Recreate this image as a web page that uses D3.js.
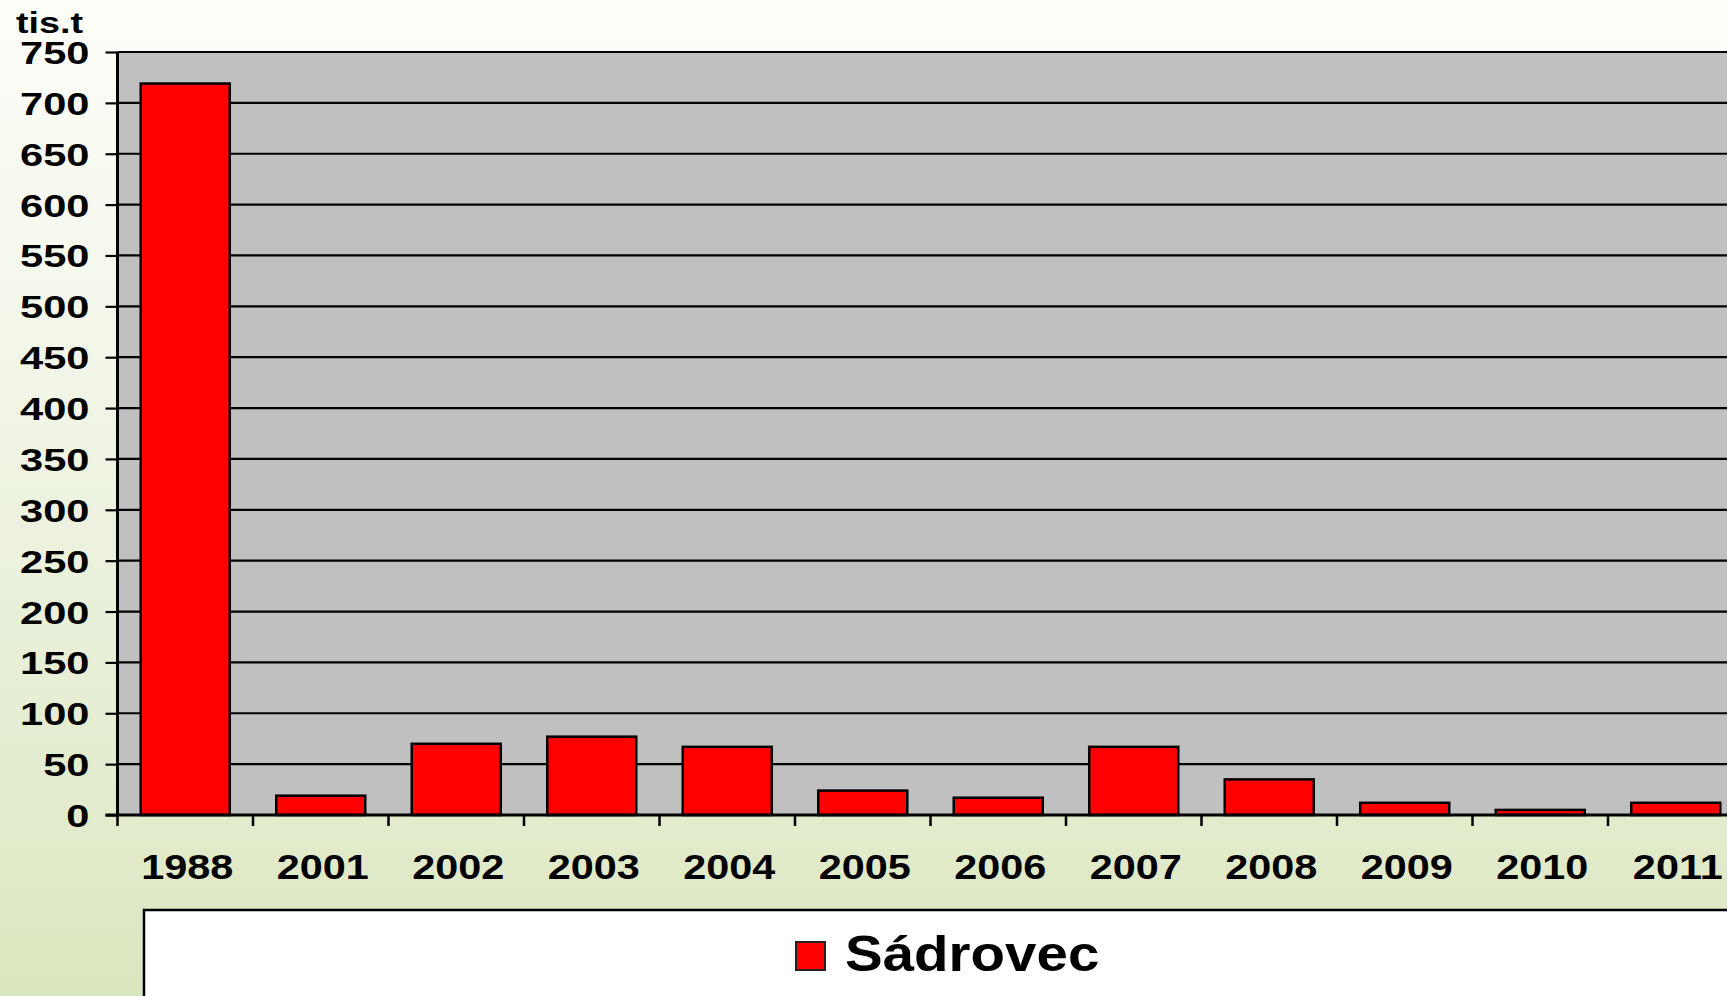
<!DOCTYPE html>
<html>
<head>
<meta charset="utf-8">
<script src="https://cdn.jsdelivr.net/npm/d3@7"></script>
<style>
  html, body { margin: 0; padding: 0; overflow: hidden; }
  svg { display: block; }
  text { font-family: "Liberation Sans", Arial, sans-serif; font-weight: bold; fill: #000; }
</style>
</head>
<body>
<svg id="chart" width="1727" height="996"></svg>
<script>
const categories = ["1988", "2001", "2002", "2003", "2004", "2005", "2006", "2007", "2008", "2009", "2010", "2011"];
const values = [719, 19, 70, 77, 67, 24, 17, 67, 35, 12, 5, 12];
const yTicks = [0, 50, 100, 150, 200, 250, 300, 350, 400, 450, 500, 550, 600, 650, 700, 750];
const seriesName = "Sádrovec";
const unitLabel = "tis.t";

const W = 1727, H = 996;
const plot = { left: 117.5, top: 52, bottom: 815 };
const step = 135.5;
const plotRight = plot.left + step * categories.length;

const svg = d3.select("#chart");

// background gradient
const defs = svg.append("defs");
const bg = defs.append("linearGradient").attr("id", "bg")
  .attr("x1", 0).attr("y1", 0).attr("x2", 0).attr("y2", 1);
bg.append("stop").attr("offset", "0%").attr("stop-color", "#FDFEF9");
bg.append("stop").attr("offset", "45%").attr("stop-color", "#EFF4E4");
bg.append("stop").attr("offset", "88%").attr("stop-color", "#E0EAC8");
bg.append("stop").attr("offset", "100%").attr("stop-color", "#D8E6BE");
svg.append("rect").attr("width", W).attr("height", H).attr("fill", "url(#bg)");

const x = d3.scaleBand().domain(categories)
  .range([plot.left, plotRight]).paddingInner(0.343).paddingOuter(0.1715);
const y = d3.scaleLinear().domain([0, 750]).range([plot.bottom, plot.top]);

// plot area
svg.append("rect")
  .attr("x", plot.left).attr("y", plot.top)
  .attr("width", plotRight - plot.left).attr("height", plot.bottom - plot.top)
  .attr("fill", "#C0C0C0");

// gridlines
svg.append("g").selectAll("line").data(yTicks.filter(d => d > 0)).join("line")
  .attr("x1", plot.left).attr("x2", plotRight)
  .attr("y1", d => y(d)).attr("y2", d => y(d))
  .attr("stroke", "#000").attr("stroke-width", 2.2);

// bars
svg.append("g").selectAll("rect").data(values).join("rect")
  .attr("x", (d, i) => x(categories[i]))
  .attr("y", d => y(d))
  .attr("width", x.bandwidth())
  .attr("height", d => y(0) - y(d))
  .attr("fill", "#FF0000")
  .attr("stroke", "#000").attr("stroke-width", 2.5);

// y axis
const ySX = 1.3;
const yAxis = svg.append("g").attr("transform", `translate(${plot.left},0)`)
  .call(d3.axisLeft(y).tickValues(yTicks).tickSize(12).tickPadding(0).tickFormat(d3.format("d")));
yAxis.select(".domain").attr("stroke", "#000").attr("stroke-width", 3)
  .attr("d", `M0,${plot.top}V${plot.bottom}`);
yAxis.selectAll(".tick line").attr("stroke", "#000").attr("stroke-width", 2.2);
yAxis.selectAll(".tick text")
  .attr("x", -28 / ySX).attr("dy", "0.36em")
  .attr("transform", `scale(${ySX},1)`)
  .style("font-size", "32px").style("font-family", "'Liberation Sans', Arial, sans-serif")
  .style("font-weight", "bold").attr("fill", "#000");

// x axis
const xSX = 1.15;
const xAxis = svg.append("g").attr("transform", `translate(0,${plot.bottom})`)
  .call(d3.axisBottom(x).tickSize(0).tickPadding(0));
xAxis.select(".domain").attr("stroke", "#000").attr("stroke-width", 3)
  .attr("d", `M${plot.left - 12},0H${plotRight}`);
xAxis.selectAll(".tick text")
  .attr("y", 0).attr("dy", 0)
  .attr("transform", `translate(2,64) scale(${xSX},1)`)
  .style("font-size", "36px").style("font-family", "'Liberation Sans', Arial, sans-serif")
  .style("font-weight", "bold").attr("fill", "#000");

// category boundary ticks
const boundaries = d3.range(categories.length + 1).map(i => plot.left + i * x.step());
svg.append("g").selectAll("line").data(boundaries).join("line")
  .attr("x1", d => d).attr("x2", d => d)
  .attr("y1", plot.bottom).attr("y2", plot.bottom + 11)
  .attr("stroke", "#000").attr("stroke-width", 2.5);

// unit label
svg.append("text").attr("transform", `translate(16,33) scale(1.3,1)`)
  .style("font-size", "29px").text(unitLabel);

// legend
const lg = svg.append("g");
lg.append("rect").attr("x", 144).attr("y", 910).attr("width", W).attr("height", 200)
  .attr("fill", "#FFFFFF").attr("stroke", "#000").attr("stroke-width", 2.5);
lg.append("rect").attr("x", 796).attr("y", 942).attr("width", 29).attr("height", 28)
  .attr("fill", "#FF0000").attr("stroke", "#222").attr("stroke-width", 2);
lg.append("text").attr("transform", `translate(845,971) scale(1.13,1)`)
  .style("font-size", "50px").text(seriesName);
</script>
</body>
</html>
